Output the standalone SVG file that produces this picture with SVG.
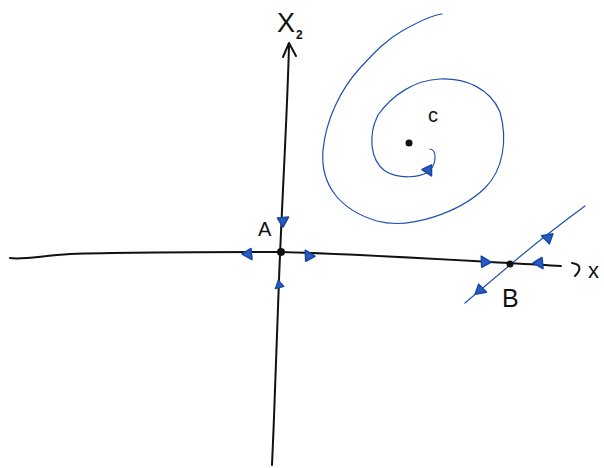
<svg xmlns="http://www.w3.org/2000/svg" width="604" height="468" viewBox="0 0 604 468">
<style>
.ax{fill:none;stroke:#111;stroke-width:2;stroke-linecap:round;stroke-linejoin:round}
.bl{fill:none;stroke:#1f4fb0;stroke-width:1.2;stroke-linecap:round}
.tri{fill:#2a5cc0;stroke:#1a48a8;stroke-width:1.6;stroke-linejoin:round}
.dot{fill:#111}
.lb{font-family:"Liberation Sans",Arial,sans-serif;fill:#111}
</style>
<defs>
<path id="tri" d="M5,0 L-5,-5.5 L-4,5.5 Z"/>
</defs>
<rect width="604" height="468" fill="#fff"/>
<g id="connectors">
<path class="ax" d="M272,465 C275,400 277,330 279,280 C282,200 287,120 289,46"/>
<path class="ax" d="M283,57 L289,43 L296,56"/>
<path class="ax" d="M10,258 C22,260 40,256 70,254 C130,252 200,252 281,252 C380,255 470,261 561,266"/>
<path class="ax" d="M572,263 C579,264 583,268 575,276" stroke-width="1.5"/>
<path class="bl" d="M442,14 C432,15 418,22 402,31 C386,40 375,52 360,68 C340,90 326,120 323,150 C320,185 340,210 377,221 C410,230 460,212 485,188 C503,170 508,140 500,112 C490,88 465,78 440,79 C415,80 392,95 378,115 C368,135 370,160 385,171 C400,180 420,177 428,172 C437,165 437,150 430,149"/>
<path class="bl" d="M465,303 C480,290 495,278 510,265 C530,248 555,228 585,206"/>
</g>
<g id="node-A">
<circle class="dot" cx="281" cy="252" r="4"/>
<text class="lb" x="258" y="236" font-size="20">A</text>
<use href="#tri" class="tri" transform="translate(283,222) rotate(90)"/>
<use href="#tri" class="tri" transform="translate(247,254) rotate(180)"/>
<use href="#tri" class="tri" transform="translate(310,256) rotate(3)"/>
<use href="#tri" class="tri" transform="translate(279,284) rotate(-100) scale(0.8)"/>
</g>
<g id="node-B">
<circle class="dot" cx="510" cy="264" r="3.5"/>
<text class="lb" x="502" y="307" font-size="25">B</text>
<use href="#tri" class="tri" transform="translate(486,262) rotate(3)"/>
<use href="#tri" class="tri" transform="translate(538,263) rotate(180)"/>
<use href="#tri" class="tri" transform="translate(549,237) rotate(-39)"/>
<use href="#tri" class="tri" transform="translate(479,291) rotate(141)"/>
</g>
<g id="node-C">
<circle class="dot" cx="409" cy="143" r="3.5"/>
<text class="lb" x="428" y="122" font-size="20">c</text>
<use href="#tri" class="tri" transform="translate(427,170) rotate(185)"/>
</g>
<g id="labels">
<text class="lb" x="277" y="32" font-size="27">X</text>
<text class="lb" x="296" y="39" font-size="12" font-weight="bold">2</text>
<text class="lb" x="588" y="278" font-size="22">x</text>
</g>
</svg>
